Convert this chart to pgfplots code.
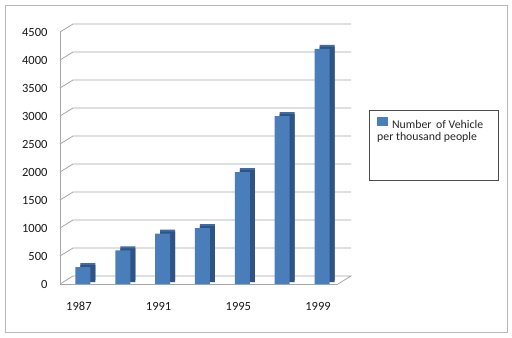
\documentclass[border=0pt]{standalone}
\usepackage{pgfplots}
\pgfplotsset{compat=1.18}
\usepackage{fontspec}
\setmainfont{Carlito}
\definecolor{barfront}{HTML}{4A7EBB}
\definecolor{barside}{HTML}{2F5385}
\definecolor{bartop}{HTML}{3E6CA6}
\definecolor{gridgray}{HTML}{A6A6A6}
\begin{document}
\begin{tikzpicture}[x=1bp,y=1bp]
\useasboundingbox (0,0) rectangle (512,337);
\fill[white] (0,0) rectangle (512,337);
\draw[gridgray!80, line width=0.8bp] (5,5) rectangle (507,332);
\begin{axis}[
  at={(60bp,53bp)}, anchor=south west, scale only axis, width=278bp, height=252bp,
  xmin=1985.85, xmax=1999.8, ymin=0, ymax=4500,
  ytick={0,500,1000,1500,2000,2500,3000,3500,4000,4500},
  xtick={1987,1991,1995,1999},
  xticklabel style={anchor=center, yshift=-22bp, xshift=-4bp},
  yticklabel style={anchor=east, xshift=-9bp},
  major tick length=0pt,
  axis x line*=bottom, axis y line*=left,
  axis line style={gridgray, line width=0.8bp, -},
  ybar, bar width=15bp,
  clip=false,
  tick label style={font=\fontsize{12.5bp}{14bp}\selectfont, text=black!90},
  /pgf/number format/assume math mode=true,
  /pgf/number format/1000 sep={},
  legend style={at={(axis description cs:1.140,0.663)}, anchor=north west, draw=none, fill=none, inner sep=0pt,
    font=\fontsize{11.8bp}{13bp}\selectfont, text=black!85, legend cell align=left},
]
\pgfplotsinvokeforeach{500,1000,1500,2000,2500,3000,3500,4000,4500}{
  \draw[gridgray, line width=0.8bp] (axis cs:1985.85,#1) -- ++(13bp,8bp) -- ++(278bp,0bp);
}
\draw[gridgray, line width=0.8bp] (axis cs:1985.85,0) -- ++(13bp,8bp) -- ++(278bp,0bp) -- ++(-13bp,-8bp);
\addplot[fill=bartop, draw=none, bar shift=5bp, yshift=4bp, forget plot] coordinates {
  (1987,300) (1989,600) (1991,900) (1993,1000) (1995,2000) (1997,3000) (1999,4200)};
\addplot[fill=barside, draw=none, bar shift=5bp, yshift=2bp, forget plot] coordinates {
  (1987,300) (1989,600) (1991,900) (1993,1000) (1995,2000) (1997,3000) (1999,4200)};
\addplot[fill=barfront, draw=none, bar shift=0bp,
  legend image code/.code={\fill[barfront] (0bp,-1bp) rectangle (11bp,8bp);}] coordinates {
  (1987,300) (1989,600) (1991,900) (1993,1000) (1995,2000) (1997,3000) (1999,4200)};
\addlegendentry{\hspace{2bp}Number\hspace{2bp} of Vehicle}
\end{axis}
\node[anchor=base west, inner sep=0pt, font=\fontsize{11.8bp}{13bp}\selectfont, text=black!85] at (377,197) {per thousand people};
\draw[black!70, line width=0.8bp] (369,157) rectangle (498,227);
\end{tikzpicture}
\end{document}
